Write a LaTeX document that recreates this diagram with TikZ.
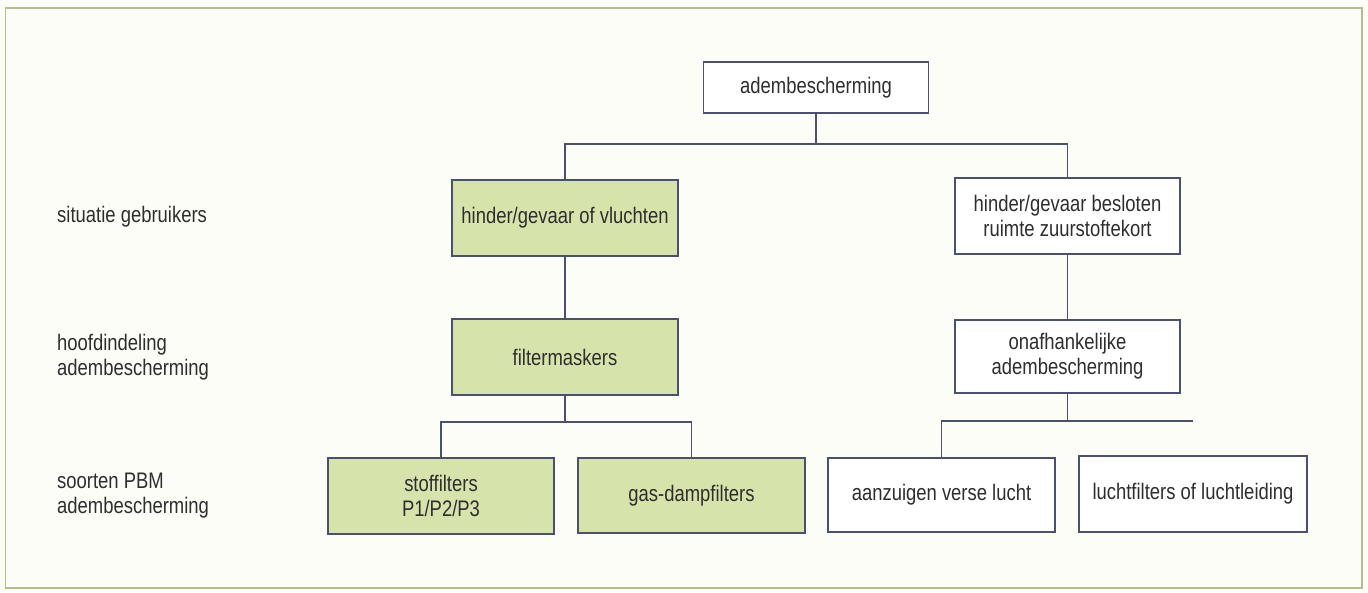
\documentclass[tikz,border=0pt]{standalone}
\usepackage{fontspec}
\setmainfont[FakeStretch=0.82]{Liberation Sans}
\definecolor{frame}{HTML}{B9BC8C}
\definecolor{bg}{HTML}{FDFDF8}
\definecolor{boxgreen}{HTML}{D6E4AB}
\definecolor{edge}{HTML}{4C5070}
\definecolor{txt}{HTML}{2E2E2E}
\begin{document}
\begin{tikzpicture}[x=1pt,y=-1pt,
  every node/.style={font=\fontsize{22.5}{25}\selectfont, text=txt},
  box/.style={draw=edge, line width=1.2pt, fill=white, align=center, inner sep=0pt},
  gbox/.style={box, fill=boxgreen},
  conn/.style={draw=edge, line width=1.2pt},
  lbl/.style={anchor=west, align=left, inner sep=0pt}]
\useasboundingbox (0,0) rectangle (1368,592);
\fill[bg] (0,0) rectangle (1368,592);
\draw[frame, line width=1.6pt] (5.5,8) rectangle (1362,588);

\node[box, minimum width=225pt, minimum height=51pt] (top) at (816,87.5) {adembescherming};
\node[gbox, minimum width=226pt, minimum height=76pt] (hv) at (565,218) {hinder/gevaar of vluchten};
\node[box, minimum width=225pt, minimum height=76pt] (hb) at (1067.5,216) {hinder/gevaar besloten\\ruimte zuurstoftekort};
\node[gbox, minimum width=226pt, minimum height=76pt] (fm) at (565,357) {filtermaskers};
\node[box, minimum width=225pt, minimum height=73pt] (onaf) at (1067.5,356.5) {onafhankelijke\\adembescherming};
\node[gbox, minimum width=226pt, minimum height=76pt] (stof) at (441,496) {stoffilters\\P1/P2/P3};
\node[gbox, minimum width=227pt, minimum height=75pt] (gas) at (691.5,495.5) {gas-dampfilters};
\node[box, minimum width=227pt, minimum height=74pt] (aanz) at (941.5,495) {aanzuigen verse lucht};
\node[box, minimum width=228pt, minimum height=76pt] (lucht) at (1193,494) {luchtfilters of luchtleiding};

\node[lbl] (l1) at (57,217) {situatie gebruikers};
\node[lbl] (l2) at (57,357) {hoofdindeling\\adembescherming};
\node[lbl] (l3) at (57,496) {soorten PBM\\adembescherming};

\coordinate (j1) at (816,144);
\coordinate (j2) at (565,422);
\coordinate (j3) at (1067.5,421);
\coordinate (rend) at (1193,421);

\draw[conn] (top.south) -- (j1);
\draw[conn] (hv.north) |- (j1) -| (hb.north);
\draw[conn] (hv.south) -- (fm.north);
\draw[conn] (fm.south) -- (j2);
\draw[conn] (stof.north) |- (j2) -| (gas.north);
\draw[conn] (hb.south) -- (onaf.north);
\draw[conn] (onaf.south) -- (j3);
\draw[conn] (aanz.north) |- (rend);
\end{tikzpicture}
\end{document}
